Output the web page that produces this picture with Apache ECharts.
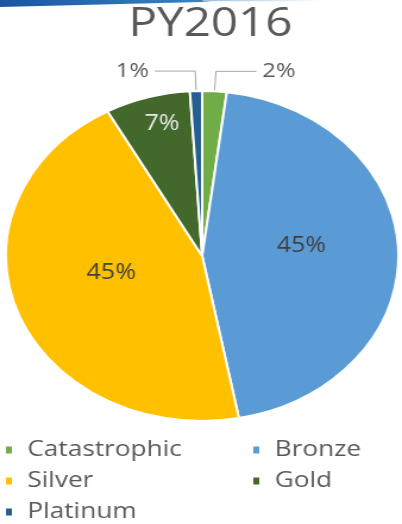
<!DOCTYPE html>
<html>
<head>
<meta charset="utf-8">
<script src="https://cdn.jsdelivr.net/npm/echarts@6/dist/echarts.min.js"></script>
<style>
html,body{margin:0;padding:0;background:#fff;overflow:hidden;}
#wrap{width:402px;height:524px;overflow:hidden;position:relative;}
#chart{width:338px;height:524px;transform:scaleX(1.1893);transform-origin:0 0;}
</style>
</head>
<body>
<div id="wrap"><div id="chart"></div></div>
<script>
const title = 'PY2016';
const categories = ['Catastrophic', 'Bronze', 'Silver', 'Gold', 'Platinum'];
const values = [2, 45, 45, 7, 1];
const palette = ['#70AD47', '#5B9BD5', '#FFC000', '#43682B', '#255E91'];
const legendLeft = ['Catastrophic', 'Silver', 'Platinum'];
const legendRight = ['Bronze', 'Gold'];

const FONT = 'Open Sans';
const chart = echarts.init(document.getElementById('chart'), null, {renderer: 'canvas'});

const insideColors = ['#404040', '#404040', '#404040', '#E8E8E8', '#404040'];
const outside = [true, false, false, false, true];

const data = categories.map((name, i) => {
  const item = {name: name, value: values[i], itemStyle: {color: palette[i]}};
  if (outside[i]) {
    item.label = {position: 'outside', color: '#595959', fontSize: 20};
    item.labelLine = {show: true, length: 20, length2: 34, lineStyle: {color: '#A6A6A6', width: 1}};
  } else {
    item.label = {position: 'inside', color: insideColors[i], fontSize: 21};
    item.labelLine = {show: false};
  }
  return item;
});

const legendCommon = {
  orient: 'vertical',
  icon: 'rect',
  itemWidth: 7,
  itemHeight: 9,
  itemGap: 9,
  padding: 0,
  height: 100,
  selectedMode: false,
  textStyle: {fontFamily: FONT, fontSize: 22, color: '#595959', padding: [0, 0, 0, 7]}
};

chart.setOption({
  animation: false,
  textStyle: {fontFamily: FONT},
  graphic: [{
    type: 'polygon',
    shape: {points: [[0, 0], [185, 0], [170, 2], [0, 7]]},
    style: {fill: new echarts.graphic.LinearGradient(0, 0, 1, 0, [
      {offset: 0, color: '#1B56A0'}, {offset: 1, color: '#3A86C8'}])}
  }, {
    type: 'rect',
    shape: {x: 170, y: 0, width: 100, height: 1.2},
    style: {fill: new echarts.graphic.LinearGradient(0, 0, 1, 0, [
      {offset: 0, color: '#9DBEDD'}, {offset: 1, color: '#FFFFFF'}])}
  }],
  title: {
    text: title,
    left: 103,
    top: 0,
    textStyle: {fontFamily: FONT, fontSize: 40, fontWeight: 'normal', color: '#595959'}
  },
  legend: [
    Object.assign({data: legendLeft, left: 3, top: 439}, legendCommon),
    Object.assign({data: legendRight, left: 211, top: 439}, legendCommon)
  ],
  series: [{
    type: 'pie',
    center: [170, 256],
    radius: [0, 165],
    startAngle: 90,
    clockwise: true,
    avoidLabelOverlap: false,
    percentPrecision: 0,
    itemStyle: {borderColor: '#FFFFFF', borderWidth: 2},
    label: {formatter: '{d}%', fontFamily: FONT},
    emphasis: {disabled: true},
    labelLayout: function (p) {
      if (p.dataIndex === 3) return {dx: -10, dy: -50};
      if (p.dataIndex === 2) return {dx: 4, dy: -12};
      if (p.dataIndex === 1) return {dx: -2, dy: -7};
      return {};
    },
    data: data
  }]
});
</script>
</body>
</html>
